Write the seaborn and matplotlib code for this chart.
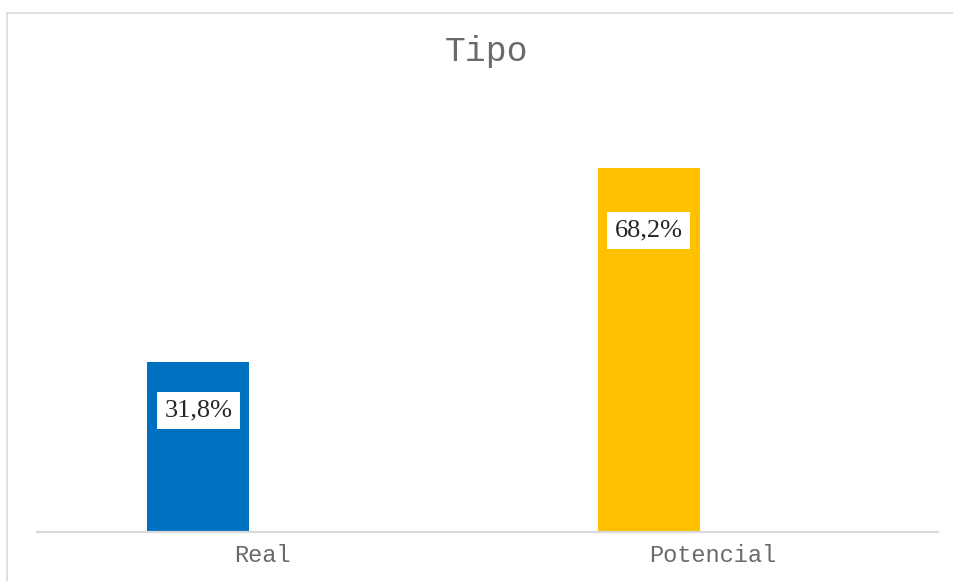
import matplotlib
matplotlib.use("Agg")
import matplotlib.pyplot as plt
import seaborn as sns
import pandas as pd
from matplotlib.lines import Line2D

categories = ["Real", "Potencial"]
values = [31.8, 68.2]
labels = ["31,8%", "68,2%"]
colors = ["#0070C0", "#FFC000"]
label_drop_pts = [35, 45]
title = "Tipo"

sns.set_theme(style="white")
plt.rcParams['font.family'] = ['Liberation Mono', 'DejaVu Sans']

W, H = 954, 581
fig = plt.figure(figsize=(W / 100, H / 100), dpi=100)
fig.patch.set_facecolor("white")

# outer border (chart area frame: top and left edges visible)
fig.add_artist(Line2D([7 / W, 1.0], [(H - 13) / H, (H - 13) / H], transform=fig.transFigure,
                      color="#D9D9D9", linewidth=1.2))
fig.add_artist(Line2D([7 / W, 7 / W], [0.0, (H - 13) / H], transform=fig.transFigure,
                      color="#D9D9D9", linewidth=1.2))

ax = fig.add_axes([37 / W, (H - 532) / H, (938 - 37) / W, (532 - 105) / H])
df = pd.DataFrame({"cat": categories, "val": values})
sns.barplot(data=df, x="cat", y="val", hue="cat", palette=colors, legend=False,
            ax=ax, width=0.8, saturation=1)

bar_w = 0.2264
bar_off = -0.142
for i, p in enumerate(ax.patches):
    p.set_width(bar_w)
    p.set_x(i + bar_off - bar_w / 2)
    p.set_edgecolor("none")
    p.set_linewidth(0)

ax.set_xlim(-0.5, 1.5)
ax.set_ylim(0, 80)
ax.set_yticks([])
ax.set_xlabel("")
ax.set_ylabel("")
for s in ["top", "right", "left"]:
    ax.spines[s].set_visible(False)
ax.spines["bottom"].set_color("#D9D9D9")
ax.spines["bottom"].set_linewidth(1.6)
ax.tick_params(axis="x", length=0, pad=9, labelsize=17, labelcolor="#6a6a6a")
for t in ax.get_xticklabels():
    t.set_fontfamily(["Liberation Mono", "DejaVu Sans"])

for i, (v, lab) in enumerate(zip(values, labels)):
    ax.annotate(lab, xy=(i + bar_off, v), xytext=(0, -label_drop_pts[i]),
                textcoords="offset points", ha="center", va="center",
                fontsize=19, color="#262626", family=["Liberation Serif", "DejaVu Serif"],
                bbox=dict(boxstyle="square,pad=0.28", facecolor="white", edgecolor="none"))

fig.text(487 / W, (H - 51) / H, title, ha="center", va="center", fontsize=25,
         color="#6a6a6a", family=["Liberation Mono", "DejaVu Sans"])

fig.savefig("out.png", dpi=100, facecolor="white")
